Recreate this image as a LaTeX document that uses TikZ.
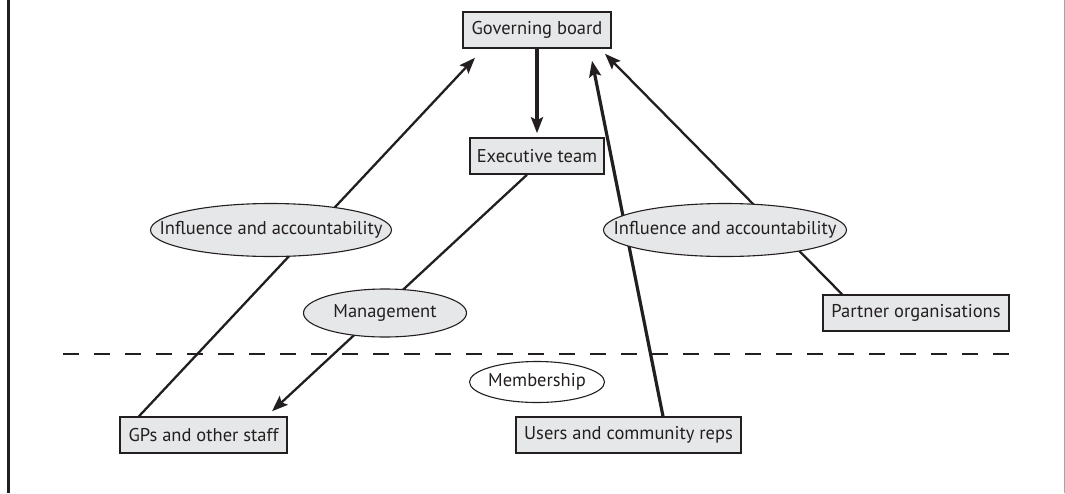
\documentclass[tikz,border=0pt]{standalone}
\usepackage{fontspec}
\setmainfont{PT Sans}
\usetikzlibrary{shapes.geometric,arrows.meta}
\definecolor{ink}{HTML}{231F20}
\definecolor{boxfill}{HTML}{E6E7E8}
\newcommand{\zerowidthtext}[1]{\makebox[0pt]{#1}}
\tikzset{
  every node/.style={text=ink, font=\fontsize{18.5}{21}\selectfont},
  unit/.style={draw=ink, line width=1.5pt, fill=boxfill, rectangle,
    inner sep=0pt, minimum height=36pt},
  label ellipse/.style={ellipse, draw=ink, line width=1.1pt, fill=boxfill,
    inner sep=0pt},
  member ellipse/.style={ellipse, draw=ink, line width=1.1pt, fill=white,
    inner sep=0pt},
  link/.style={draw=ink, line width=2.3pt,
    -{Stealth[length=16pt,width=12pt,inset=3pt]}},
  strong link/.style={link, line width=3.2pt}
}
\begin{document}
\begin{tikzpicture}[x=1pt, y=-1pt]
  \useasboundingbox (0,0) rectangle (1065,493);
  % frame rules
  \draw[ink, line width=2.2pt] (8.5,0) -- (8.5,493);
  \draw[gray!70, line width=0.8pt] (1064,0) -- (1064,493);

  % organisational units
  \node[unit, minimum width=148pt] (gb) at (537,30) {Governing board};
  \node[unit, minimum width=134pt] (exec) at (537,156) {Executive team};
  \node[unit, minimum width=167pt] (gps) at (203.5,435) {GPs and other staff};
  \node[unit, minimum width=225pt] (users) at (628.5,435) {Users and community reps};
  \node[unit, minimum width=186pt] (partner) at (916,313) {Partner organisations};

  % boundary of the membership
  \draw[ink, line width=1.6pt, dash pattern=on 16pt off 15pt] (63,354) -- (1013,354);

  % lines of influence and management
  \draw[strong link, shorten >=4pt] (gb.south) -- (exec.north);
  \draw[link] ([xshift=-64.5pt]gps.north) -- ([xshift=-62pt,yshift=-9pt]gb.south);
  \draw[link] ([xshift=-10pt]exec.south) -- ([xshift=68.5pt,yshift=5pt]gps.north);
  \draw[strong link] ([xshift=34.5pt]users.north) -- ([xshift=55pt,yshift=-12pt]gb.south);
  \draw[link] ([xshift=-74pt]partner.north) -- ([xshift=68pt,yshift=-5pt]gb.south);

  % relationship labels (text is allowed to run close to the outline)
  \node[label ellipse, minimum width=241pt, minimum height=53pt] (infl) at (271,230) {\zerowidthtext{Influence and accountability}};
  \node[label ellipse, minimum width=243pt, minimum height=53pt] (infr) at (725,230) {\zerowidthtext{Influence and accountability}};
  \node[label ellipse, minimum width=163pt, minimum height=48pt] (mgmt) at (385,313) {\zerowidthtext{Management}};
  \node[member ellipse, minimum width=135pt, minimum height=41pt] (memb) at (537,382) {\zerowidthtext{Membership}};
\end{tikzpicture}
\end{document}
